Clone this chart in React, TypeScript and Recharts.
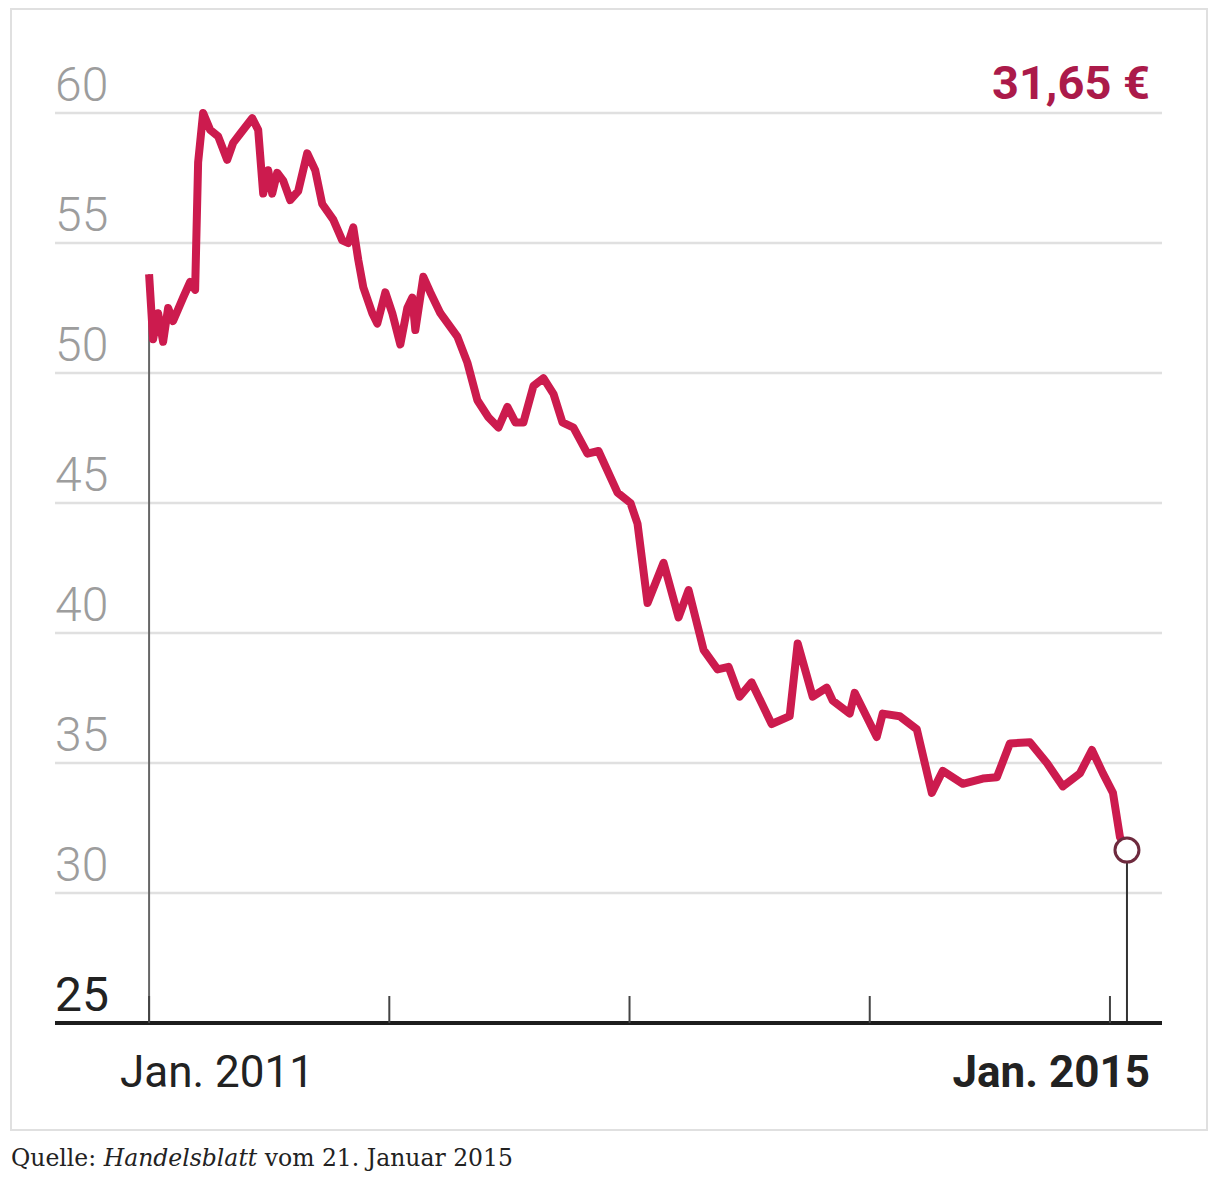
import { LineChart, Line, XAxis, YAxis, CartesianGrid, ReferenceLine } from "recharts";

// months since Jan. 2011 and closing price in euro
const months = [
  0, 0.2, 0.45, 0.7, 0.95, 1.2, 1.7, 2.05, 2.3, 2.45, 2.7, 3.05, 3.45, 3.9, 4.2, 4.55, 5.15, 5.45,
  5.7, 5.95, 6.15, 6.4, 6.7, 7.05, 7.45, 7.9, 8.3, 8.65, 9.2, 9.65, 9.95, 10.2, 10.45, 10.7,
  11.15, 11.4, 11.8, 12.15, 12.55, 12.9, 13.15, 13.3, 13.7, 14.05, 14.55, 15.4, 15.9, 16.4,
  16.95, 17.45, 17.9, 18.3, 18.7, 19.2, 19.7, 20.2, 20.65, 21.2, 21.9, 22.45, 23.4, 24.05,
  24.4, 24.9, 25.7, 26.45, 26.95, 27.7, 28.4, 28.95, 29.5, 30.1, 31.1, 32.0, 32.4, 33.15,
  33.85, 34.15, 35.0, 35.25, 36.35, 36.65, 37.5, 38.35, 39.1, 39.65, 40.65, 41.65, 42.35,
  43.0, 44.0, 44.85, 45.65, 46.5, 47.1, 47.65, 48.15, 48.5, 48.85,
];
const prices = [
  53.8, 51.3, 52.3, 51.2, 52.5, 52.0, 52.9, 53.5, 53.2, 58.1, 60.0, 59.35, 59.1, 58.2, 58.85, 59.2, 59.8, 59.35,
  56.9, 57.8, 56.9, 57.7, 57.4, 56.65, 57.0, 58.45, 57.8, 56.5, 55.9, 55.1, 55.0, 55.6, 54.35, 53.3,
  52.3, 51.9, 53.1, 52.3, 51.1, 52.5, 52.9, 51.65, 53.7, 53.1, 52.3, 51.4, 50.4, 48.95,
  48.3, 47.9, 48.7, 48.1, 48.1, 49.5, 49.8, 49.2, 48.1, 47.9, 46.9, 47.0, 45.4, 45.0,
  44.2, 41.15, 42.7, 40.6, 41.65, 39.35, 38.6, 38.7, 37.55, 38.1, 36.5, 36.8, 39.6, 37.55,
  37.9, 37.4, 36.9, 37.7, 36.0, 36.9, 36.8, 36.3, 33.85, 34.7, 34.2, 34.4, 34.45,
  35.75, 35.8, 35.0, 34.1, 34.6, 35.5, 34.6, 33.85, 32.15, 31.65,
];

const yTicks = [25, 30, 35, 40, 45, 50, 55, 60];
const xTicks = [0, 12, 24, 36, 48];
const xTickLabels = ["Jan. 2011", "", "", "", "Jan. 2015"];
const lastPriceLabel = "31,65 €";

const data = months.map((m, i) => ({ m, price: prices[i] }));
const LAST = data.length - 1;

const RED = "#cc1b4e";
const FONT = "Roboto, 'Noto Sans', sans-serif";

const YTick = (props: any) => {
  const { x, y, payload } = props;
  const base = payload.value === 25;
  return (
    <text
      x={x}
      y={y - 12}
      textAnchor="start"
      fontFamily={FONT}
      fontSize={48}
      fontWeight={base ? 400 : 300}
      fill={base ? "#222" : "#9d9d9d"}
    >
      {payload.value}
    </text>
  );
};

const XTick = (props: any) => {
  const { x, y, index } = props;
  const label = xTickLabels[index];
  const isLast = index === xTicks.length - 1;
  return (
    <g>
      <line x1={x} y1={y} x2={x} y2={y - 27} stroke="#444" strokeWidth={2} />
      {label && (
        <text
          x={isLast ? x + 40 : x - 29}
          y={y + 64}
          textAnchor={isLast ? "end" : "start"}
          fontFamily={FONT}
          fontSize={44}
          fontWeight={isLast ? 700 : 400}
          fill="#222"
        >
          {label}
        </text>
      )}
    </g>
  );
};

const EndDot = (props: any) => {
  const { cx, cy, index } = props;
  if (index !== LAST) return <g key={index} />;
  return <circle key={index} cx={cx} cy={cy} r={12} fill="#fff" stroke="#6e2a3e" strokeWidth={3} />;
};

const App = () => {
  return (
    <div style={{ position: "absolute", left: 0, top: 0, width: 1209, height: 1181, background: "#fff" }}>
      <div
        style={{
          position: "absolute",
          left: 10,
          top: 8,
          width: 1198,
          height: 1123,
          border: "2px solid #e0e0e0",
          boxSizing: "border-box",
        }}
      />
      <div style={{ position: "absolute", left: 0, top: 0 }}>
        <LineChart width={1209} height={1130} data={data} margin={{ top: 113, right: 47, bottom: 47, left: 0 }}>
          <CartesianGrid horizontal vertical={false} stroke="#e0e0e0" strokeWidth={2.5} />
          <XAxis
            dataKey="m"
            type="number"
            domain={[-4.7, 50.6]}
            ticks={xTicks}
            interval={0}
            height={60}
            tickSize={0}
            tickMargin={0}
            tickLine={false}
            axisLine={{ stroke: "#1d1d1d", strokeWidth: 4 }}
            tick={XTick}
          />
          <YAxis
            type="number"
            domain={[25, 60]}
            ticks={yTicks}
            interval={0}
            width={55}
            tickSize={0}
            tickMargin={0}
            axisLine={false}
            tickLine={false}
            tick={YTick}
          />
          <ReferenceLine
            segment={[
              { x: months[0], y: 25 },
              { x: months[0], y: prices[0] },
            ]}
            stroke="#666"
            strokeWidth={2}
          />
          <ReferenceLine
            segment={[
              { x: months[LAST], y: 25 },
              { x: months[LAST], y: prices[LAST] },
            ]}
            stroke="#333"
            strokeWidth={2}
          />
          <Line
            type="linear"
            dataKey="price"
            stroke={RED}
            strokeWidth={8}
            strokeLinejoin="round"
            dot={EndDot}
            activeDot={false}
            isAnimationActive={false}
          />
        </LineChart>
      </div>
      <div
        style={{
          position: "absolute",
          right: 59,
          top: 59,
          fontFamily: FONT,
          fontSize: 47,
          fontWeight: 700,
          lineHeight: 1,
          color: "#ab1a4a",
        }}
      >
        {lastPriceLabel}
      </div>
      <div
        style={{
          position: "absolute",
          left: 11,
          top: 1144,
          fontFamily: "'DejaVu Serif', serif",
          fontSize: 23.5,
          color: "#222",
          whiteSpace: "nowrap",
        }}
      >
        Quelle: <i>Handelsblatt</i> vom 21. Januar 2015
      </div>
    </div>
  );
};

export default App;
